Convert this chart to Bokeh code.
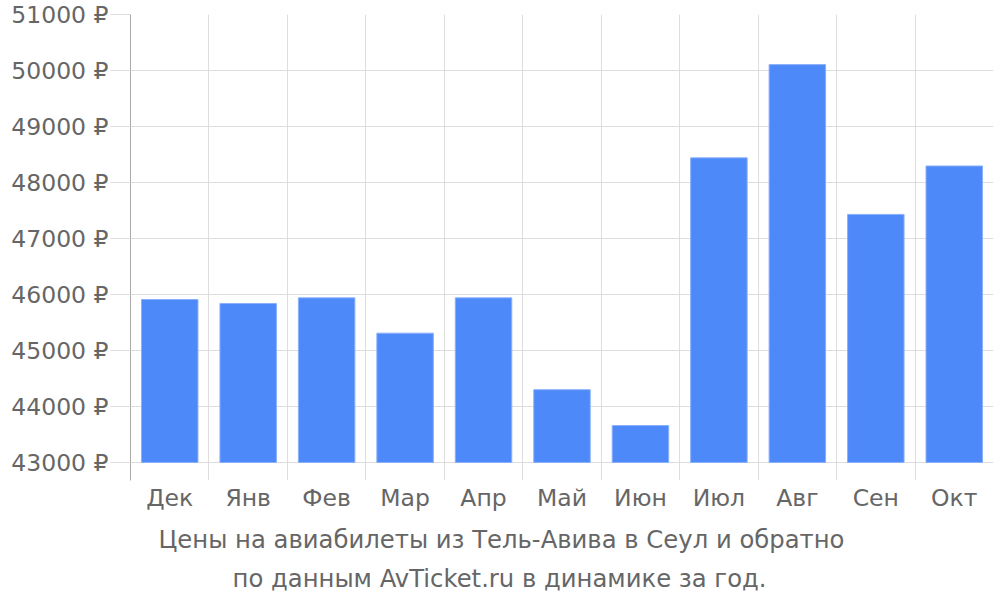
from bokeh.plotting import figure
from bokeh.models import ColumnDataSource, FixedTicker, PrintfTickFormatter, Range1d, Title
from bokeh.embed import file_html
from bokeh.resources import INLINE

months = ["Дек", "Янв", "Фев", "Мар", "Апр", "Май", "Июн", "Июл", "Авг", "Сен", "Окт"]
prices = [45910, 45840, 45940, 45310, 45940, 44300, 43660, 48440, 50105, 47430, 48295]
y_ticks = [43000, 44000, 45000, 46000, 47000, 48000, 49000, 50000, 51000]
title_lines = ["Цены на авиабилеты из Тель-Авива в Сеул и обратно",
               "по данным AvTicket.ru в динамике за год."]

FONT = "DejaVu Sans"
TXT = "#666666"
GRID = "#dddddd"
FS = "23.5px"
TFS = "24.3px"

n = len(months)
xs = [i + 0.5 for i in range(n)]
base = y_ticks[0]
src = ColumnDataSource(dict(x=xs, top=prices, bottom=[base] * n, m=months))

W, H = 995, 595
p = figure(width=W, height=H, output_backend="svg", toolbar_location=None,
           x_range=Range1d(0, n), y_range=Range1d(42678.6, 51000),
           min_border_left=130, min_border_right=2, min_border_top=14, min_border_bottom=H - 480)
p.outline_line_color = None
p.background_fill_color = "white"
p.border_fill_color = "white"

p.vbar(x="x", top="top", bottom="bottom", width=0.72, source=src,
       fill_color="#4d89f9", line_color="#8ab0fb", line_width=1)

# x axis
p.xaxis.ticker = FixedTicker(ticks=xs)
p.xaxis.major_label_overrides = {x: m for x, m in zip(xs, months)}
p.xaxis.axis_line_color = None
p.xaxis.major_tick_line_color = None
p.xaxis.major_tick_out = 0
p.xaxis.major_tick_in = 0
p.xaxis.minor_tick_line_color = None
p.xaxis.major_label_text_font = FONT
p.xaxis.major_label_text_font_size = FS
p.xaxis.major_label_text_color = TXT
p.xaxis.major_label_standoff = 3
p.xgrid.ticker = FixedTicker(ticks=list(range(n + 1)))
p.xgrid.grid_line_color = GRID

# y axis
p.yaxis.ticker = FixedTicker(ticks=y_ticks)
p.yaxis.formatter = PrintfTickFormatter(format="%d ₽")
p.yaxis.axis_line_color = "#aaaaaa"
p.yaxis.major_tick_line_color = GRID
p.yaxis.major_tick_out = 20
p.yaxis.major_tick_in = 0
p.yaxis.minor_tick_line_color = None
p.yaxis.major_label_standoff = 2
p.yaxis.major_label_text_font = FONT
p.yaxis.major_label_text_font_size = FS
p.yaxis.major_label_text_color = TXT
p.ygrid.ticker = FixedTicker(ticks=y_ticks)
p.ygrid.grid_line_color = GRID

for line, off, so in zip(title_lines, [28, 102], [17, -1]):
    p.add_layout(Title(text=line, align="left", offset=off, text_font=FONT,
                       text_font_size=TFS, text_font_style="normal",
                       text_color=TXT, standoff=so), "below")

open("out.html", "w").write(file_html(p, INLINE))
